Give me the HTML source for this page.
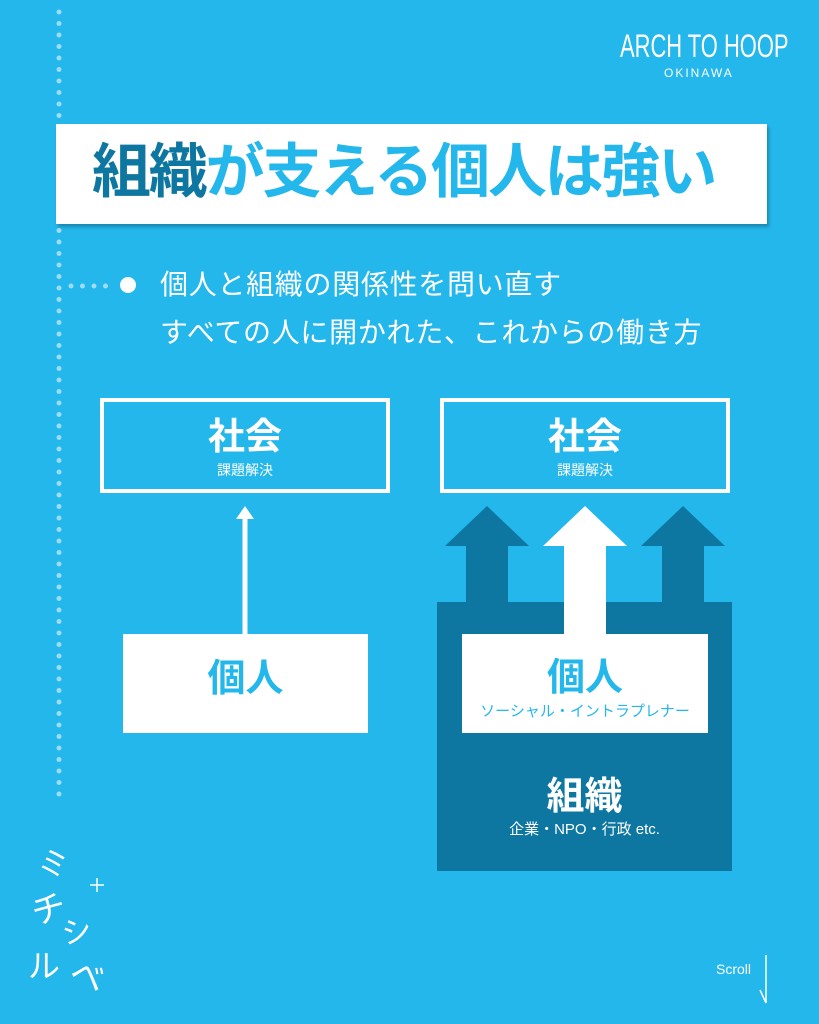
<!DOCTYPE html>
<html><head><meta charset="utf-8"><style>
*{margin:0;padding:0;box-sizing:border-box}
body{width:819px;height:1024px;background:#23B7EC;position:relative;overflow:hidden;font-family:"Liberation Sans","Noto Sans CJK JP",sans-serif;color:#fff}
.a{position:absolute}
.c{position:absolute;text-align:center;white-space:nowrap;line-height:1}
</style></head><body>
<svg class="a" style="left:0;top:0" width="819" height="1024">
<line x1="59" y1="12" x2="59" y2="800" stroke="#9fdcf5" stroke-width="5" stroke-linecap="round" stroke-dasharray="0 11.5"/>
<line x1="71" y1="286" x2="110" y2="286" stroke="#9fdcf5" stroke-width="5" stroke-linecap="round" stroke-dasharray="0 11.5"/>
<circle cx="128" cy="285" r="8" fill="#fff"/>
<rect x="102" y="400" width="286" height="91" fill="none" stroke="#fff" stroke-width="4"/>
<rect x="442" y="400" width="286" height="91" fill="none" stroke="#fff" stroke-width="4"/>
<line x1="245" y1="518" x2="245" y2="634" stroke="#fff" stroke-width="5"/>
<polygon points="245,506 236,519 254,519" fill="#fff"/>
<rect x="123" y="634" width="245" height="99" fill="#fff"/>
<rect x="437" y="602" width="295" height="269" fill="#0D77A1"/>
<polygon points="487,506 529,546 508,546 508,602 466,602 466,546 445,546" fill="#0D77A1"/>
<polygon points="683,506 725,546 704,546 704,602 662,602 662,546 641,546" fill="#0D77A1"/>
<polygon points="585,506 627,546 606,546 606,634 564,634 564,546 543,546" fill="#fff"/>
<rect x="462" y="634" width="246" height="99" fill="#fff"/>
<line x1="766" y1="955" x2="766" y2="1003" stroke="#fff" stroke-width="1.5"/>
<line x1="766" y1="1003" x2="760" y2="990" stroke="#fff" stroke-width="1.5"/>
<path d="M97,878 v14 M90,885 h14" stroke="#fff" stroke-width="1.5"/>
</svg>
<div class="c" style="left:620px;top:30px;font-size:32px;transform:scaleX(0.685);transform-origin:left top;text-align:left">ARCH TO HOOP</div>
<div class="c" style="left:664px;top:67px;font-size:12px;letter-spacing:2px">OKINAWA</div>
<div class="a" style="left:56px;top:124px;width:711px;height:100px;background:#fff;box-shadow:2px 3px 3px rgba(0,0,0,0.25)"></div>
<div class="c" style="left:92px;top:143px;font-size:59px;font-weight:bold;color:#23B7EC;letter-spacing:-2.2px;text-align:left"><span style="color:#0D77A1">組織</span>が支える個人は強い</div>
<div class="c" style="left:160px;top:271px;font-size:28px;letter-spacing:0.7px;text-align:left">個人と組織の関係性を問い直す</div>
<div class="c" style="left:160px;top:319px;font-size:28px;letter-spacing:0.7px;text-align:left">すべての人に開かれた、これからの働き方</div>
<div class="c" style="left:100px;top:418px;width:290px;font-size:37px;font-weight:bold">社会</div>
<div class="c" style="left:100px;top:463px;width:290px;font-size:14px">課題解決</div>
<div class="c" style="left:440px;top:418px;width:290px;font-size:37px;font-weight:bold">社会</div>
<div class="c" style="left:440px;top:463px;width:290px;font-size:14px">課題解決</div>
<div class="c" style="left:123px;top:660px;width:245px;font-size:38px;font-weight:bold;color:#23B7EC">個人</div>
<div class="c" style="left:462px;top:659px;width:246px;font-size:38px;font-weight:bold;color:#23B7EC">個人</div>
<div class="c" style="left:462px;top:704px;width:246px;font-size:15px;color:#23B7EC">ソーシャル・イントラプレナー</div>
<div class="c" style="left:437px;top:778px;width:295px;font-size:38px;font-weight:bold">組織</div>
<div class="c" style="left:437px;top:822px;width:295px;font-size:15px">企業・NPO・行政 etc.</div>
<div class="c" style="left:716px;top:962px;font-size:14px">Scroll</div>
<div class="c" style="left:38px;top:850px;font-size:30px;transform:rotate(15deg)">ミ</div>
<div class="c" style="left:32px;top:893px;font-size:34px;transform:rotate(-15deg)">チ</div>
<div class="c" style="left:62px;top:918px;font-size:30px;transform:rotate(-10deg)">シ</div>
<div class="c" style="left:28px;top:950px;font-size:32px">ル</div>
<div class="c" style="left:70px;top:960px;font-size:34px;transform:rotate(20deg)">ベ</div>
</body></html>
